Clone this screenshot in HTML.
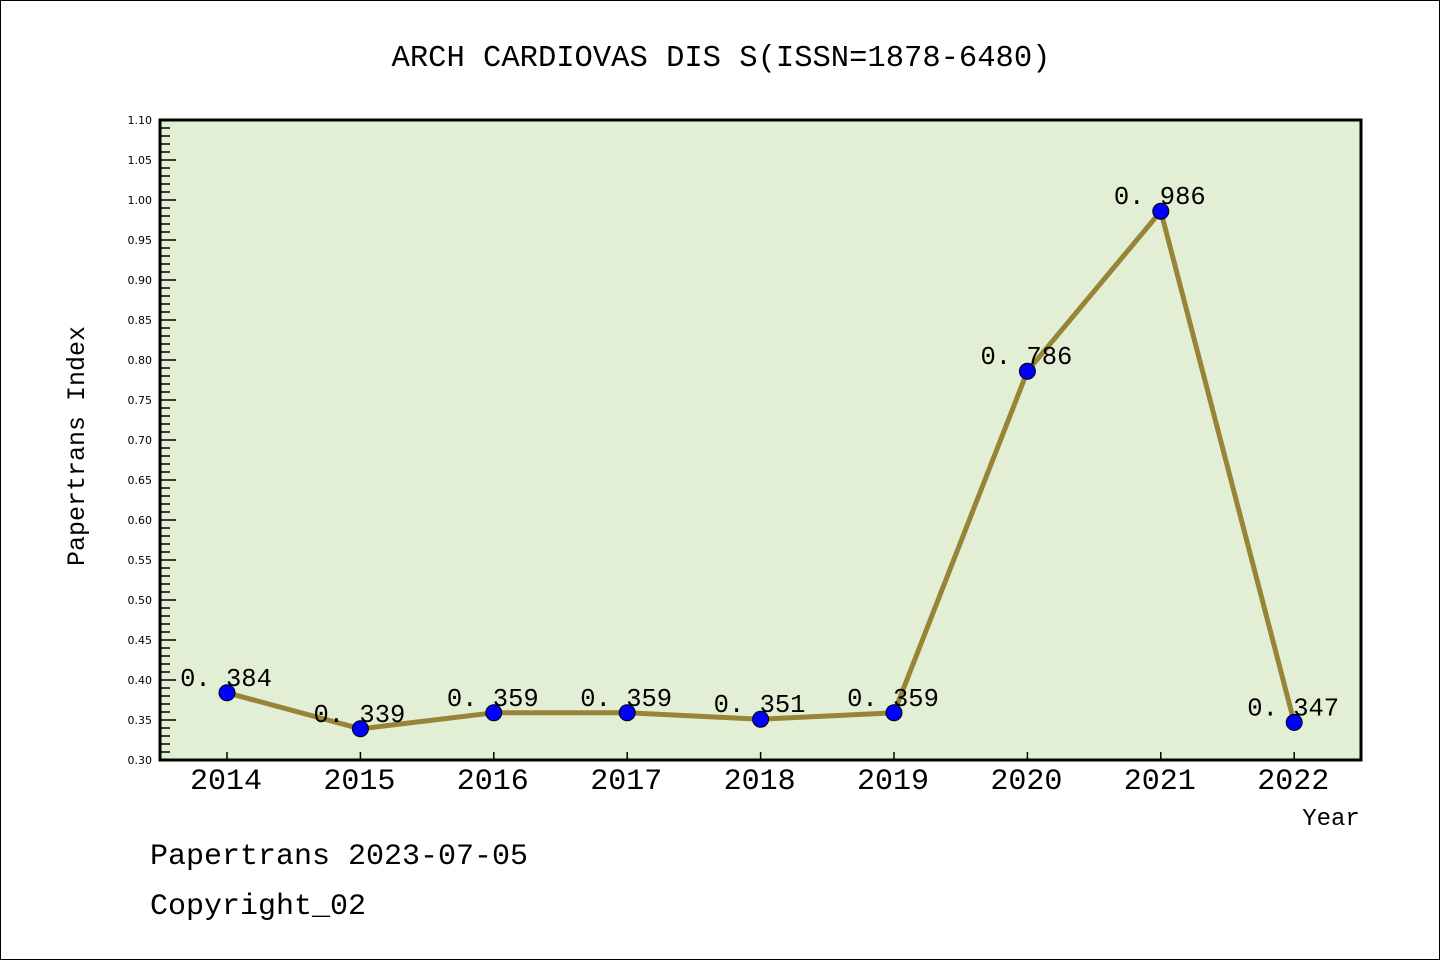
<!DOCTYPE html>
<html><head><meta charset="utf-8"><style>
html,body{margin:0;padding:0;background:#fff}
svg{display:block}
text{font-family:"Liberation Mono","DejaVu Sans Mono",monospace}
text.sans{font-family:"DejaVu Sans","Liberation Sans",sans-serif}
</style></head><body>
<svg id="chart" width="1440" height="960" viewBox="0 0 1440 960" xmlns="http://www.w3.org/2000/svg">
<rect x="0.5" y="0.5" width="1439" height="959" fill="#fff" stroke="#000" stroke-width="1"/>
<text x="721" y="66" font-size="30.5" text-anchor="middle">ARCH CARDIOVAS DIS S(ISSN=1878-6480)</text>
<rect x="160" y="120" width="1201" height="640" fill="#e2efd4"/>
<g id="yaxis"></g>
<g id="xaxis"></g>
<g id="series"></g>
<rect x="160" y="120" width="1201" height="640" fill="none" stroke="#000" stroke-width="3"/>
<text transform="translate(84,446) rotate(-90)" font-size="25" text-anchor="middle">Papertrans Index</text>
<text x="1331" y="825" font-size="24" text-anchor="middle">Year</text>
<text x="150" y="864" font-size="30">Papertrans 2023-07-05</text>
<text x="150" y="914" font-size="30">Copyright_02</text>
</svg>
<script>
const years = ["2014","2015","2016","2017","2018","2019","2020","2021","2022"];
const values = [0.384,0.339,0.359,0.359,0.351,0.359,0.786,0.986,0.347];
const valueLabels = ["0. 384","0. 339","0. 359","0. 359","0. 351","0. 359","0. 786","0. 986","0. 347"];
const yTicks = [0.30,0.35,0.40,0.45,0.50,0.55,0.60,0.65,0.70,0.75,0.80,0.85,0.90,0.95,1.00,1.05,1.10];
const yMin = 0.30, yMax = 1.10;
const NS = "http://www.w3.org/2000/svg";
const X0 = 227, XStep = 133.4, PT = 120, PB = 760, PL = 160;
function xs(i){return X0 + i*XStep;}
function ys(v){return PB - (v - yMin)/(yMax - yMin)*(PB - PT);}
function mk(tag, attrs, parent){const e=document.createElementNS(NS,tag);for(const k in attrs)e.setAttribute(k,attrs[k]);parent.appendChild(e);return e;}
const ya = document.getElementById('yaxis');
for(let k=0;k<=80;k++){
  const v = yMin + k*0.01; const y = ys(v);
  const major = k%5===0;
  const t = mk('line',{x1:PL,x2:PL+(major?16:10),y1:y,y2:y,stroke:'#000','stroke-width':1.5},ya);
  
  
}
yTicks.forEach(v=>{
  const t = mk('text',{x:152,y:ys(v)+4,'font-size':11,'text-anchor':'end','class':'sans'},ya);
  t.textContent = v.toFixed(2);
  
  
});
const xa = document.getElementById('xaxis');
years.forEach((yr,i)=>{
  const t = mk('line',{x1:xs(i),x2:xs(i),y1:PB,y2:PB-8,stroke:'#000','stroke-width':1.5},xa);
  
  
  const l = mk('text',{x:xs(i)-1,y:789,'font-size':30,'text-anchor':'middle'},xa);
  l.textContent = yr;
  
  
});
const s = document.getElementById('series');
const pl = mk('polyline',{points:values.map((v,i)=>xs(i)+','+ys(v)).join(' '),fill:'none',stroke:'#978437','stroke-width':5,'stroke-linejoin':'round'},s);


values.forEach((v,i)=>{
  const c = mk('circle',{cx:xs(i),cy:ys(v),r:8,fill:'#0000ff',stroke:'#000','stroke-width':1},s);
  
  
});
values.forEach((v,i)=>{
  const t = mk('text',{x:xs(i)-1,y:ys(v)-7,'font-size':25.5,'text-anchor':'middle'},s);
  t.textContent = valueLabels[i];
  
  
});
</script>
</body></html>
